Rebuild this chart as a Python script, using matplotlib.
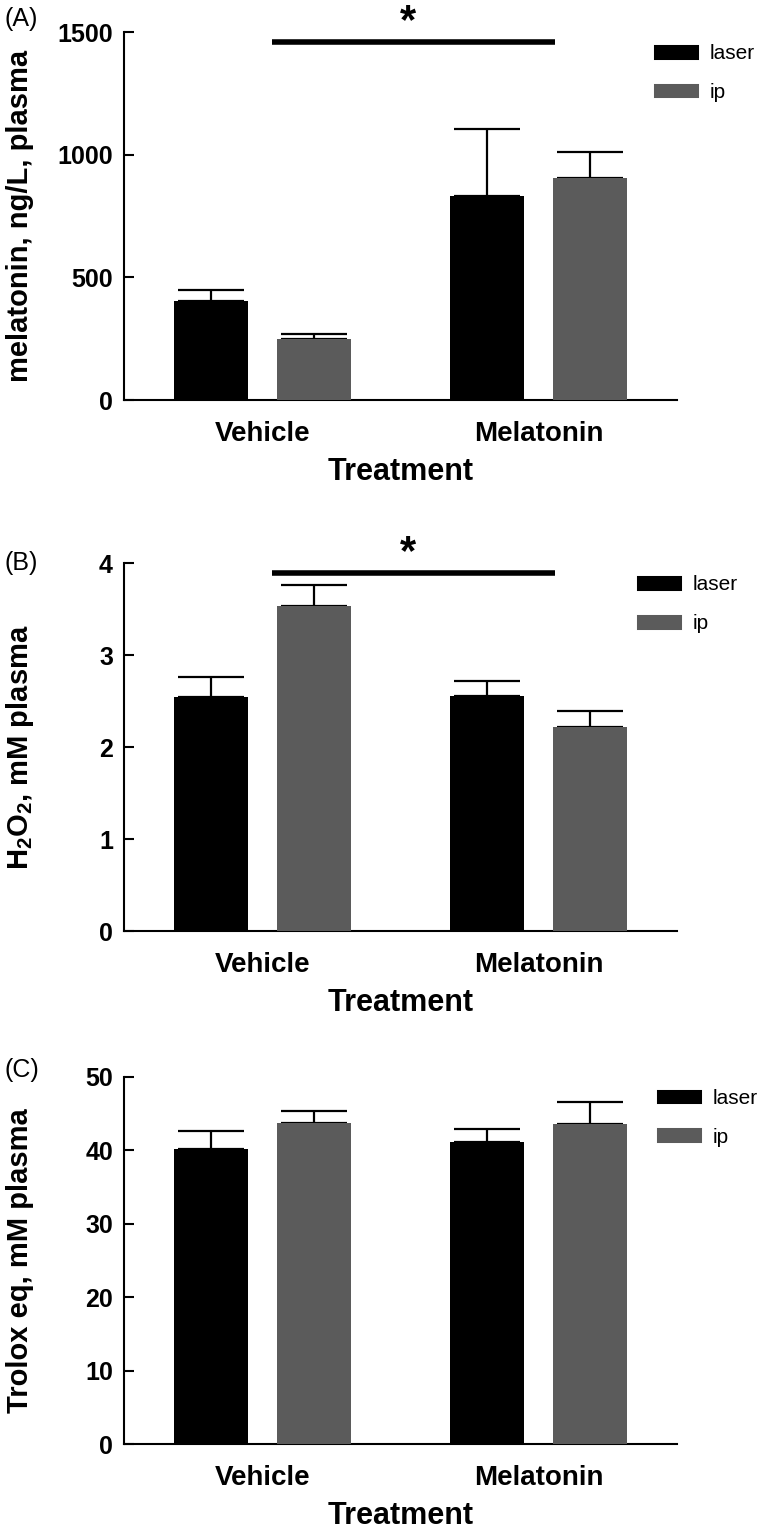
import matplotlib
matplotlib.use("Agg")
import matplotlib.pyplot as plt
from matplotlib.patches import Patch

plt.rcParams["font.family"] = ["Liberation Sans", "DejaVu Sans"]
plt.rcParams["mathtext.default"] = "regular"

groups = ["Vehicle", "Melatonin"]
series = ["laser", "ip"]

# (A) melatonin, ng/L
mel_laser = [403, 831]
mel_laser_sem = [47, 272]
mel_ip = [250, 904]
mel_ip_sem = [20, 106]

# (B) H2O2, mM
h2o2_laser = [2.55, 2.56]
h2o2_laser_sem = [0.22, 0.16]
h2o2_ip = [3.54, 2.22]
h2o2_ip_sem = [0.22, 0.18]

# (C) Trolox eq, mM
trolox_laser = [40.2, 41.1]
trolox_laser_sem = [2.4, 1.8]
trolox_ip = [43.7, 43.6]
trolox_ip_sem = [1.6, 2.9]

BLACK = "#000000"
GRAY = "#5b5b5b"
GROUP_X = [0.0, 3.73]
OFFSET = 0.70


def draw_panel(ax, laser, laser_sem, ip, ip_sem, ymax, yticks, ylabel, legend_x):
    for vals, sems, color, off in [(laser, laser_sem, BLACK, -OFFSET), (ip, ip_sem, GRAY, OFFSET)]:
        xs = [g + off for g in GROUP_X]
        ax.errorbar(xs, vals, yerr=[[0] * len(sems), sems], fmt="none", ecolor="black",
                    elinewidth=1.6, capsize=24, capthick=1.6, zorder=2)
        ax.bar(xs, vals, width=1.0, color=color, zorder=3)

    ax.set_xlim(GROUP_X[0] - 1.87, GROUP_X[1] + 1.87)
    ax.set_ylim(0, ymax)
    ax.set_yticks(yticks)
    ax.set_xticks(GROUP_X)
    ax.set_xticklabels(groups, fontsize=20, fontweight="bold")
    for lab in ax.get_yticklabels():
        lab.set_fontweight("bold")
        lab.set_fontsize(18)
    ax.tick_params(axis="y", direction="in", length=7, width=1.5, pad=8)
    ax.tick_params(axis="x", length=0, pad=15)
    for side in ["top", "right"]:
        ax.spines[side].set_visible(False)
    for side in ["left", "bottom"]:
        ax.spines[side].set_linewidth(1.5)
    ax.set_xlabel("Treatment", fontsize=22, fontweight="bold", labelpad=7)

    handles = [Patch(facecolor=BLACK, edgecolor=BLACK, lw=2.2, joinstyle="round"),
               Patch(facecolor=GRAY, edgecolor=GRAY, lw=2.2, joinstyle="round")]
    ax.legend(handles, series, loc="upper left", bbox_to_anchor=(legend_x, 0.967),
              frameon=False, fontsize=15, handlelength=2.0, handleheight=0.48,
              handletextpad=0.6, labelspacing=0.95, borderpad=0, borderaxespad=0)

    bbox = ax.get_position()
    fig.text(20 / 760, (bbox.y0 + bbox.y1) / 2, ylabel, rotation=90, ha="center", va="center",
             fontsize=21, fontweight="bold")


def sig_bar(ax, y, ymax):
    ax.plot([0.135, 3.946], [y, y], color="black", lw=4, solid_capstyle="butt", clip_on=False, zorder=4)
    ax.text(1.97, ymax * 1.028, "*", ha="center", va="center", fontsize=30,
            fontweight="bold", clip_on=False)


fig = plt.figure(figsize=(7.6, 15.3), dpi=100)
left = 124 / 760
width = (677 - 124) / 760

axA = fig.add_axes([left, 1 - 400 / 1530, width, 368 / 1530])
axB = fig.add_axes([left, 1 - 931.5 / 1530, width, 368.2 / 1530])
axC = fig.add_axes([left, 1 - 1444.3 / 1530, width, 367.6 / 1530])

draw_panel(axA, mel_laser, mel_laser_sem, mel_ip, mel_ip_sem, 1500, [0, 500, 1000, 1500],
           "melatonin, ng/L, plasma", 0.961)
sig_bar(axA, 1459, 1500)

draw_panel(axB, h2o2_laser, h2o2_laser_sem, h2o2_ip, h2o2_ip_sem, 4, [0, 1, 2, 3, 4],
           "H$_2$O$_2$, mM plasma", 0.930)
sig_bar(axB, 3.89, 4)

draw_panel(axC, trolox_laser, trolox_laser_sem, trolox_ip, trolox_ip_sem, 50,
           [0, 10, 20, 30, 40, 50], "Trolox eq, mM plasma", 0.966)

fig.text(5 / 760, 1 - 7 / 1530, "(A)", ha="left", va="top", fontsize=18)
fig.text(5 / 760, 1 - 551 / 1530, "(B)", ha="left", va="top", fontsize=18)
fig.text(5 / 760, 1 - 1058 / 1530, "(C)", ha="left", va="top", fontsize=18)

fig.savefig("out.png", dpi=100)
